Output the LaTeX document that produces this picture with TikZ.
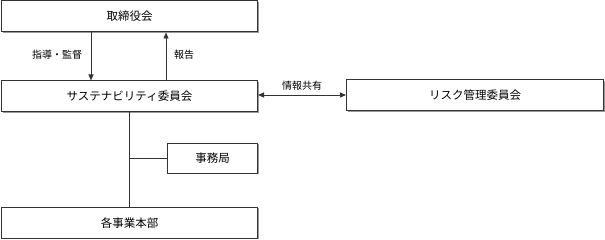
\documentclass[tikz,border=0pt]{standalone}
\usepackage{fontspec}
\setmainfont{Noto Sans CJK JP}
\usetikzlibrary{arrows.meta}
\definecolor{linec}{HTML}{333333}
\tikzset{
  orgbox/.style={draw=linec, line width=1pt, fill=white, minimum height=31pt, inner sep=0pt, font=\fontsize{11.5}{12}\selectfont},
  conn/.style={draw=linec, line width=0.9pt},
  arr/.style={conn, -{Triangle[length=6pt,width=5pt]}},
  lbl/.style={font=\fontsize{10}{11}\selectfont, text=black, inner sep=0pt},
  shadowbox/.style={fill=black!40, draw=none}
}
\begin{document}
\begin{tikzpicture}[x=1pt,y=-1pt]
\useasboundingbox (0,0) rectangle (605,240);
% shadows
\fill[shadowbox] (2.5,2) rectangle (258.5,33.5);
\fill[shadowbox] (2.5,82) rectangle (258.5,113.5);
\fill[shadowbox] (347.5,81) rectangle (604.5,112.5);
\fill[shadowbox] (168.5,144.5) rectangle (258.5,174.5);
\fill[shadowbox] (2.5,208.5) rectangle (258.5,239.5);
% boxes
\node[orgbox, minimum width=256pt, anchor=north west] (board) at (1,0.5) {取締役会};
\node[orgbox, minimum width=256pt, anchor=north west] (sus) at (1,80.5) {サステナビリティ委員会};
\node[orgbox, minimum width=257pt, anchor=north west] (risk) at (346,79.5) {リスク管理委員会};
\node[orgbox, minimum width=90pt, minimum height=30pt, anchor=north west] (sec) at (167,143) {事務局};
\node[orgbox, minimum width=256pt, anchor=north west] (biz) at (1,207) {各事業本部};
% connectors
\coordinate (dtop) at (91,32);
\draw[arr] (board.south -| dtop) -- (sus.north -| dtop);
\coordinate (utop) at (166,32);
\draw[arr] (sus.north -| utop) -- (board.south -| utop);
\node[lbl] (l1) at (57,55) {指導・監督};
\node[lbl] (l2) at (184,55) {報告};
\coordinate (hy) at (0,95);
\draw[conn, {Triangle[length=6pt,width=5pt]}-{Triangle[length=6pt,width=5pt]}] (sus.east |- hy) -- (risk.west |- hy);
\node[lbl] (l3) at (302,86) {情報共有};
\coordinate (vx) at (129,0);
\draw[conn] (sus.south -| vx) -- (biz.north -| vx);
\draw[conn] (sec.west) -- (sec.west -| vx);
\end{tikzpicture}
\end{document}
